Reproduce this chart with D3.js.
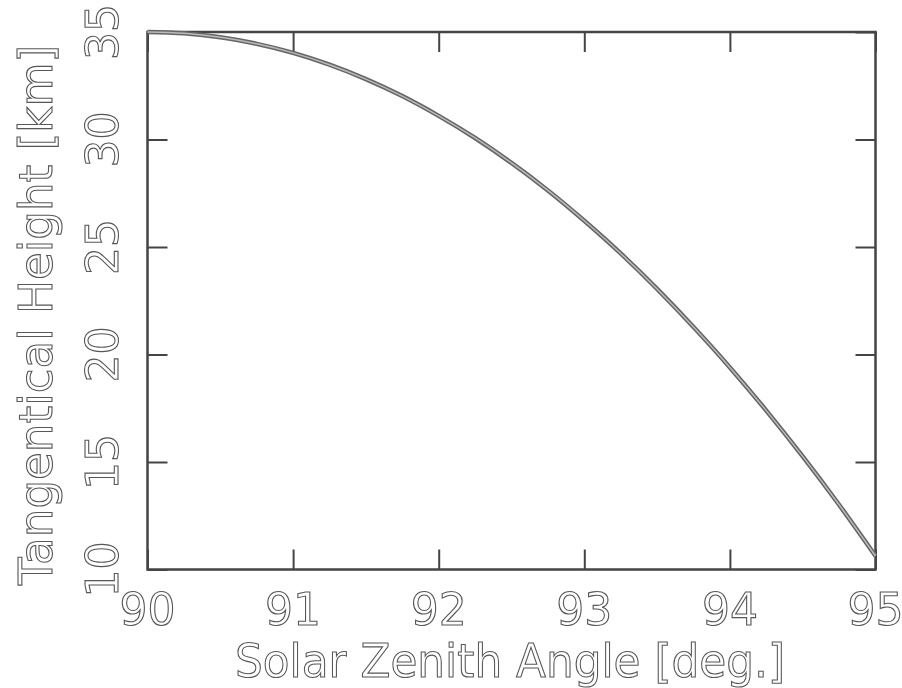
<!DOCTYPE html>
<html>
<head>
<meta charset="utf-8">
<script src="https://cdn.jsdelivr.net/npm/d3@7"></script>
<style>
  body { margin: 0; background: #fff; }
  text { font-family: "DejaVu Sans", sans-serif; }
</style>
</head>
<body>
<svg id="viz"></svg>
<script>
// canvas size
const width = 902, height = 688;

// values (solar zenith angle in deg, tangent height in km)
const sza = [90, 90.25, 90.5, 90.75, 91, 91.25, 91.5, 91.75, 92, 92.25, 92.5,
             92.75, 93, 93.25, 93.5, 93.75, 94, 94.25, 94.5, 94.75, 95];
const heightKm = [35.0, 34.94, 34.76, 34.45, 34.03, 33.48, 32.81, 32.02, 31.10, 30.07, 28.91,
                  27.63, 26.22, 24.70, 23.05, 21.28, 19.40, 17.39, 15.26, 13.01, 10.63];

const xTicks = [90, 91, 92, 93, 94, 95];
const yTicks = [10, 15, 20, 25, 30, 35];
const xTitle = "Solar Zenith Angle [deg.]";
const yTitle = "Tangentical Height [km]";

// plot frame
const margin = {top: 32, right: 26.5, bottom: 118.5, left: 147.5};
const innerW = width - margin.left - margin.right;
const innerH = height - margin.top - margin.bottom;

const svg = d3.select("#viz")
  .attr("width", width)
  .attr("height", height);

const g = svg.append("g")
  .attr("transform", `translate(${margin.left},${margin.top})`);

const x = d3.scaleLinear().domain([90, 95]).range([0, innerW]);
const y = d3.scaleLinear().domain([10, 35]).range([innerH, 0]);

const frameColor = "#444";
const tickLen = 20;

// axes with inward ticks on all four sides, no labels (labels drawn separately)
function styleAxis(sel) {
  sel.select(".domain").remove();
  sel.selectAll(".tick line").attr("stroke", frameColor).attr("stroke-width", 2);
  sel.selectAll(".tick text").remove();
}

g.append("g").attr("transform", `translate(0,${innerH})`)
  .call(d3.axisBottom(x).tickValues(xTicks).tickSize(-tickLen)).call(styleAxis);
g.append("g")
  .call(d3.axisTop(x).tickValues(xTicks).tickSize(-tickLen)).call(styleAxis);
g.append("g")
  .call(d3.axisLeft(y).tickValues(yTicks).tickSize(-tickLen)).call(styleAxis);
g.append("g").attr("transform", `translate(${innerW},0)`)
  .call(d3.axisRight(y).tickValues(yTicks).tickSize(-tickLen)).call(styleAxis);

// frame
g.append("rect")
  .attr("width", innerW)
  .attr("height", innerH)
  .attr("fill", "none")
  .attr("stroke", frameColor)
  .attr("stroke-width", 2.5);

// curve
const pts = sza.map((d, i) => [d, heightKm[i]]);
const line = d3.line()
  .x(d => x(d[0]))
  .y(d => y(d[1]))
  .curve(d3.curveMonotoneX);

g.append("path")
  .datum(pts)
  .attr("d", line)
  .attr("fill", "none")
  .attr("stroke", "#666")
  .attr("stroke-width", 4.5);
g.append("path")
  .datum(pts)
  .attr("d", line)
  .attr("fill", "none")
  .attr("stroke", "#bbb")
  .attr("stroke-width", 1.5);

// labels go in their own layer; the opacity keeps the glyph edges grey
const labels = svg.append("g").attr("opacity", 0.99);
const lg = labels.append("g")
  .attr("transform", `translate(${margin.left},${margin.top})`);

// hollow-looking text like the plotter font
function hollow(sel) {
  sel.attr("fill", "#fff")
    .attr("stroke", "#555")
    .attr("stroke-width", 1.1)
    .attr("font-weight", "normal");
}

// x tick labels
lg.selectAll(".xlab")
  .data(xTicks)
  .enter()
  .append("text")
  .attr("x", d => x(d))
  .attr("y", innerH + 55)
  .attr("text-anchor", "middle")
  .attr("font-size", 44)
  .text(d => d)
  .call(hollow);

// y tick labels, rotated
lg.selectAll(".ylab")
  .data(yTicks)
  .enter()
  .append("text")
  .attr("transform", d => `translate(${118 - margin.left},${y(d)}) rotate(-90)`)
  .attr("text-anchor", "middle")
  .attr("font-size", 44)
  .text(d => d)
  .call(hollow);

// axis titles
labels.append("text")
  .attr("x", 510)
  .attr("y", 677)
  .attr("text-anchor", "middle")
  .attr("font-size", 46)
  .attr("textLength", 550)
  .attr("lengthAdjust", "spacingAndGlyphs")
  .text(xTitle)
  .call(hollow);

labels.append("text")
  .attr("transform", "translate(52,315) rotate(-90)")
  .attr("text-anchor", "middle")
  .attr("font-size", 46)
  .attr("textLength", 540)
  .attr("lengthAdjust", "spacingAndGlyphs")
  .text(yTitle)
  .call(hollow);
</script>
</body>
</html>
